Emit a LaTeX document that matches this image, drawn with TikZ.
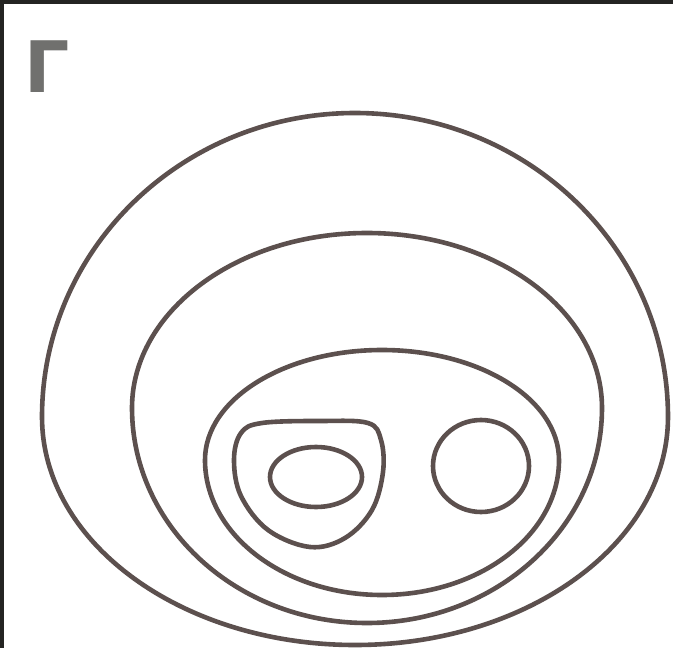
\documentclass[tikz,border=0pt]{standalone}
\usepackage{fontspec}
\newfontfamily\letterfont{DejaVu Sans}
\begin{document}
\begin{tikzpicture}[x=1pt,y=-1pt,
  ring/.style={draw=ringcol,line width=4.6pt},
  frameband/.style={fill=framecol,draw=none}]
\definecolor{ringcol}{RGB}{92,80,78}
\definecolor{framecol}{RGB}{36,36,34}
\definecolor{lettercol}{RGB}{112,112,110}
\useasboundingbox (0,0) rectangle (673,648);
\fill[white] (0,0) rectangle (673,648);
\begin{scope}
\clip (0,0) rectangle (673,648);
% outer ring
\draw[ring] (668,417) arc (0:90:313 and 228) arc (90:180:313 and 228)
  arc (180:270:313 and 304) arc (270:360:313 and 304) -- cycle;
% second ring
\draw[ring] (602,408) arc (0:90:235 and 215) arc (90:180:235 and 215)
  arc (180:270:235 and 175) arc (270:360:235 and 175) -- cycle;
% third ring
\draw[ring] (559,460) arc (0:90:177 and 135) arc (90:180:177 and 135)
  arc (180:270:177 and 110) arc (270:360:177 and 110) -- cycle;
% rounded blob
\draw[ring] plot[smooth cycle,tension=0.6] coordinates {
  (262,423) (320,421) (368,423) (381,440) (383,472) (372,510)
  (345,538) (310,547) (268,530) (241,496) (234,460) (241,433)};
% inner ellipse
\draw[ring] (316,477) ellipse (46 and 30);
% right circle
\draw[ring] (481,466) ellipse (48 and 46);
\end{scope}
% frame bands
\fill[frameband] (0,0) rectangle (673,3.5);
\fill[frameband] (0,0) rectangle (4,648);
% letter
\node[anchor=base west,inner sep=0pt,text=lettercol,font=\letterfont\bfseries\fontsize{71}{71}\selectfont] (g) at (24,92) {Г};
\end{tikzpicture}
\end{document}
